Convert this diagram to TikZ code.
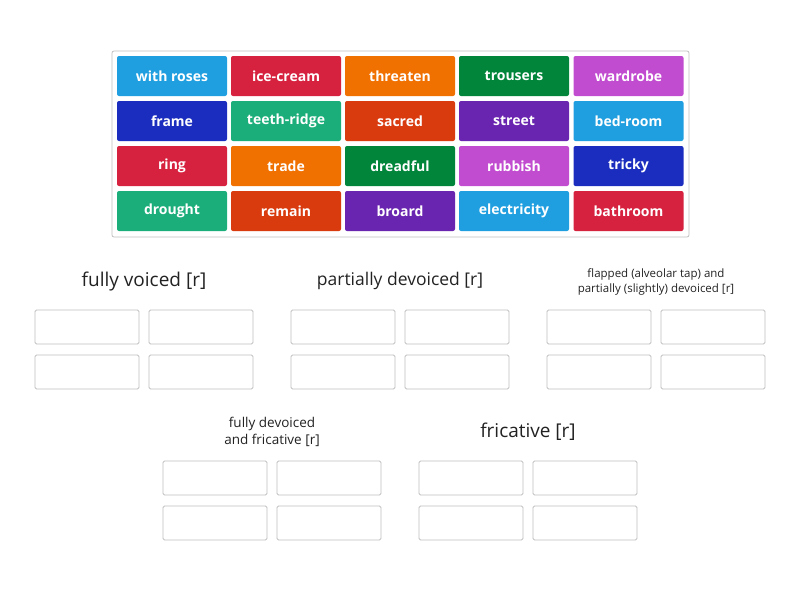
\documentclass[tikz,border=0pt]{standalone}
\usepackage{fontspec}
\setmainfont{Open Sans}
\definecolor{cLB}{HTML}{1F9FE0}
\definecolor{cR}{HTML}{D6213F}
\definecolor{cO}{HTML}{F07000}
\definecolor{cG}{HTML}{00853A}
\definecolor{cM}{HTML}{C24CD0}
\definecolor{cDB}{HTML}{1B2DBF}
\definecolor{cT}{HTML}{1BAE7A}
\definecolor{cOR}{HTML}{D93A0E}
\definecolor{cP}{HTML}{6A25B0}
\definecolor{txt}{HTML}{222222}
\begin{document}
\begin{tikzpicture}[x=1pt,y=-1pt,
 tile/.style={fill=#1,rounded corners=2pt,minimum width=110pt,minimum height=40pt,inner sep=0pt,text=white,font=\fontsize{14}{16}\selectfont\bfseries},
 slot/.style={draw=black!25,line width=0.8pt,rounded corners=1.5pt,minimum width=104pt,minimum height=34pt,inner sep=0pt},
 ttl/.style={text=txt,align=center,inner sep=0pt}]
\useasboundingbox (0,0) rectangle (800,600);
\node[draw=black!25,line width=0.8pt,rounded corners=2pt,minimum width=577pt,minimum height=186pt] (panel) at (400.5,144) {};
\def\cols{{172,286,400,514,628.5}}
\foreach \t/\c/\i/\j in {with roses/cLB/0/0, ice-cream/cR/1/0, threaten/cO/2/0, trousers/cG/3/0, wardrobe/cM/4/0,
 frame/cDB/0/1, teeth-ridge/cT/1/1, sacred/cOR/2/1, street/cP/3/1, bed-room/cLB/4/1,
 ring/cR/0/2, trade/cO/1/2, dreadful/cG/2/2, rubbish/cM/3/2, tricky/cDB/4/2,
 drought/cT/0/3, remain/cOR/1/3, broard/cP/2/3, electricity/cLB/3/3, bathroom/cR/4/3}
 {\pgfmathsetmacro\xx{\cols[\i]}\node[tile=\c] (t\i\j) at (\xx,76+45*\j) {\t};}
% groups
\foreach \g/\xa/\ya in {a/35/310, b/291/310, c/547/310, d/163/461, e/419/461}{
 \node[slot] (\g1) at (\xa+52,\ya+17) {};
 \node[slot] (\g2) at (\xa+166,\ya+17) {};
 \node[slot] (\g3) at (\xa+52,\ya+62) {};
 \node[slot] (\g4) at (\xa+166,\ya+62) {};}
\node[ttl,font=\fontsize{19}{22}\selectfont] (ha) at (144,282) {fully voiced [r]};
\node[ttl,font=\fontsize{17.5}{20}\selectfont] (hb) at (400,281) {partially devoiced [r]};
\node[ttl,font=\fontsize{11.5}{15.5}\selectfont] (hc) at (656,282) {flapped (alveolar tap) and\\partially (slightly) devoiced [r]};
\node[ttl,font=\fontsize{13.5}{17}\selectfont] (hd) at (272,432) {fully devoiced\\and fricative [r]};
\node[ttl,font=\fontsize{19}{22}\selectfont] (he) at (528,432) {fricative [r]};
\end{tikzpicture}
\end{document}
